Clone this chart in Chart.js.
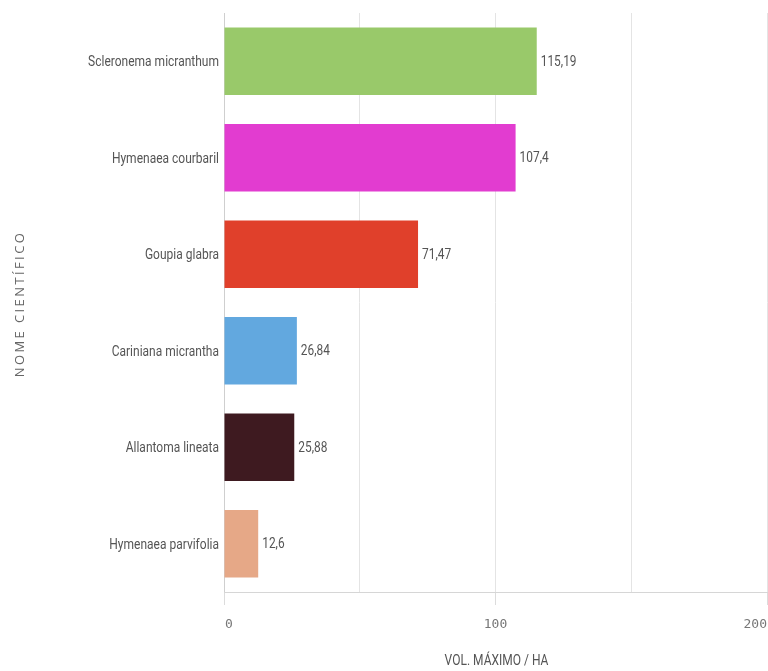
<!DOCTYPE html>
<html>
<head>
<meta charset="utf-8">
<script src="https://cdn.jsdelivr.net/npm/chart.js@4/dist/chart.umd.min.js"></script>
<style>
  html, body { margin: 0; padding: 0; background: #fff; }
  #wrap { width: 768px; height: 671px; }
</style>
</head>
<body>
<div id="wrap"><canvas id="myChart" width="768" height="671"></canvas></div>
<script>
// data
const especies = ["Scleronema micranthum", "Hymenaea courbaril", "Goupia glabra",
  "Cariniana micrantha", "Allantoma lineata", "Hymenaea parvifolia"];
const volMaximo = [115.19, 107.4, 71.47, 26.84, 25.88, 12.6];
const cores = ["#99c96a", "#e23cd0", "#e0402b", "#62a8df", "#3e1a20", "#e6a887"];
const xTicks = [0, 100, 200];

// no condensed font installed, so squeeze Roboto horizontally
function narrowText(ctx, txt, x, y, align, size, squeeze) {
  ctx.save();
  ctx.font = size + "px Roboto, sans-serif";
  ctx.textAlign = align;
  ctx.textBaseline = "middle";
  ctx.translate(x, y);
  ctx.scale(squeeze, 1);
  ctx.fillText(txt, 0, 0);
  ctx.restore();
}

const extraText = {
  id: "extraText",
  afterDraw(chart) {
    const ctx = chart.ctx;
    const x = chart.scales.x;
    const y = chart.scales.y;
    const area = chart.chartArea;
    ctx.save();

    // category labels
    ctx.fillStyle = "#555";
    especies.forEach((name, i) => {
      narrowText(ctx, name, area.left - 5, y.getPixelForValue(i) + 1, "right", 15, 0.8);
    });

    // value labels at bar ends
    chart.getDatasetMeta(0).data.forEach((bar, i) => {
      narrowText(ctx, volMaximo[i].toLocaleString("pt-BR"), bar.x + 4, bar.y + 1, "left", 14, 0.85);
    });

    // x tick labels
    ctx.font = "13px 'DejaVu Sans Mono', monospace";
    ctx.fillStyle = "#777";
    ctx.textBaseline = "middle";
    xTicks.forEach((v, i) => {
      ctx.textAlign = i == 0 ? "left" : (i == xTicks.length - 1 ? "right" : "center");
      ctx.fillText(String(v), x.getPixelForValue(v) + (i == 0 ? 1 : 0), 625);
    });

    // x title
    ctx.fillStyle = "#555";
    narrowText(ctx, "VOL. MÁXIMO / HA", (area.left + area.right) / 2 + 1, 661, "center", 15, 0.8);

    // y title
    ctx.translate(20, 304);
    ctx.rotate(-Math.PI / 2);
    ctx.font = "13px 'Open Sans', sans-serif";
    ctx.fillStyle = "#666";
    ctx.textAlign = "center";
    ctx.textBaseline = "middle";
    if ("letterSpacing" in ctx) ctx.letterSpacing = "2.4px";
    ctx.fillText("NOME CIENTÍFICO", 0, 0);

    ctx.restore();
  }
};

const ctx = document.getElementById("myChart").getContext("2d");
const myChart = new Chart(ctx, {
  type: "bar",
  data: {
    labels: especies,
    datasets: [{
      data: volMaximo,
      backgroundColor: cores,
      barPercentage: 0.7,
      categoryPercentage: 1,
    }],
  },
  options: {
    indexAxis: "y",
    responsive: false,
    animation: false,
    layout: { padding: { top: 13, right: 1, left: 0, bottom: 0 } },
    plugins: { legend: { display: false }, tooltip: { enabled: false } },
    scales: {
      y: {
        afterFit(scale) { scale.width = 224; },
        grid: { display: false },
        border: { color: "#cfcfcf" },
        ticks: { display: false },
      },
      x: {
        min: 0,
        max: 200,
        afterFit(scale) { scale.height = 79; },
        border: { color: "#d6d6d6" },
        grid: {
          color: "#e4e4e4",
          tickLength: 13,
          tickColor: (c) => (c.tick && c.tick.value % 100 == 0 ? "#dcdcdc" : "rgba(0,0,0,0)"),
        },
        ticks: { stepSize: 50, display: false },
      },
    },
  },
  plugins: [extraText],
});
</script>
</body>
</html>
